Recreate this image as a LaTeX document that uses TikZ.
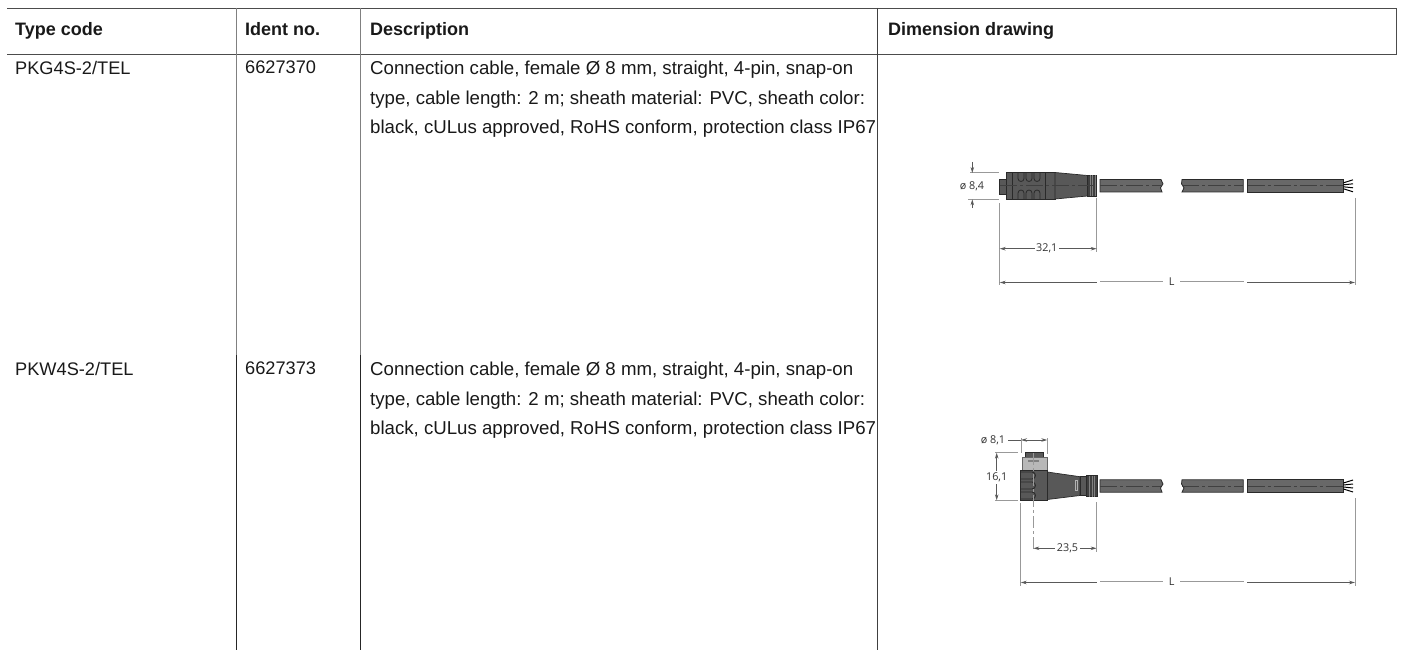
\documentclass[tikz,border=0pt]{standalone}
\usepackage{fontspec}
\setmainfont{Liberation Sans}
\newfontfamily\dimfont{Open Sans}
\usetikzlibrary{arrows.meta}
\definecolor{sheathgray}{HTML}{686868}
\definecolor{bodygray}{HTML}{585858}
\definecolor{edgegray}{HTML}{2A2A2A}
\tikzset{
	celltext/.style={anchor=north west,inner sep=0pt,align=left,font=\fontsize{18.2}{29.3}\selectfont,text=black!90},
	desctext/.style={celltext,font=\fontsize{18.65}{29.3}\selectfont},
	headtext/.style={anchor=base west,inner sep=0pt,font=\fontsize{18}{20}\selectfont\bfseries,text=black!90},
	dimtext/.style={inner sep=1.5pt,fill=white,font=\fontsize{10.8}{12}\dimfont,text=black!80},
	sheath/.style={draw=edgegray,line width=.8pt,fill=sheathgray},
	body/.style={draw=edgegray,line width=.7pt,fill=bodygray},
	centerline/.style={black!75,line width=.9pt,dash pattern=on 17pt off 3pt on 3pt off 3pt},
	extline/.style={black!40,line width=1pt},
	dimline/.style={black!65,line width=.8pt},
	lightdim/.style={black!40,line width=1pt}
}
\begin{document}
\begin{tikzpicture}[x=1pt,y=-1pt,>={Stealth[length=6pt,width=3.5pt]}]
	\useasboundingbox (0,0) rectangle (1401,650);
	
	\draw[black!70,line width=.9pt] (7,8) -- (1396.5,8) -- (1396.5,54) -- (7,54);
	\draw[black!50,line width=1pt] (236,8) -- (236,355);
	\draw[black!50,line width=1pt] (360,8) -- (360,355);
	\draw[black!85,line width=1pt] (236,355) -- (236,650);
	\draw[black!85,line width=1pt] (360,355) -- (360,650);
	\draw[black!75,line width=1pt] (877.5,8) -- (877.5,650);
	
	\node[headtext] (headtype) at (15,36) {Type code};
	\node[headtext] (headident) at (245,36) {Ident no.};
	\node[headtext] (headdesc) at (370,36) {Description};
	\node[headtext] (headdim) at (888,36) {Dimension drawing};
	
	\node[celltext] (typea) at (15,61) {PKG4S-2/TEL};
	\node[celltext] (identa) at (245,61) {6627370};
	\node[desctext] (desca) at (370,61) {Connection cable, female Ø 8 mm, straight, 4-pin, snap-on\\type, cable length: 2 m; sheath material: PVC, sheath color:\\black, cULus approved, RoHS conform, protection class IP67};
	\node[celltext] (typeb) at (15,362) {PKW4S-2/TEL};
	\node[celltext] (identb) at (245,362) {6627373};
	\node[desctext] (descb) at (370,362) {Connection cable, female Ø 8 mm, straight, 4-pin, snap-on\\type, cable length: 2 m; sheath material: PVC, sheath color:\\black, cULus approved, RoHS conform, protection class IP67};
	
	\foreach \y in {185.8,486}
	{
		\fill[sheath] (1100,\y-6.2) -- (1161,\y-6.2) -- (1163,\y-2) -- (1160.5,\y+2) -- (1162,\y+6.2) -- (1100,\y+6.2) -- cycle;
		\fill[sheath] (1182,\y-6.2) -- (1243.3,\y-6.2) -- (1243.3,\y+6.2) -- (1182,\y+6.2) -- (1184,\y+2) -- (1181.5,\y-2) -- cycle;
		\fill[sheath] (1247.3,\y-6.2) rectangle (1343.5,\y+6.2);
		\foreach \w in {-6,-2,2,6}
		\draw[black,line width=1pt] (1343.5,\y+\w/2) -- (1353,\y+\w);
		\foreach \a/\b in {1100/1161,1182/1243,1247.5/1343}
		\draw[centerline] (\a,\y) -- (\b,\y);
	}
	
	\draw[body] (999.5,179) rectangle (1006,194);
	\draw[body] (1006,172.5) rectangle (1055,199);
	\draw[body] (1055,172.5) -- (1087.5,175.5) -- (1087.5,196) -- (1055,199) -- cycle;
	\draw[body,fill=edgegray!90] (1087.5,175.5) rectangle (1096.7,196);
	\foreach \x in {1090,1092.5,1095}
	\draw[black!50,line width=.6pt] (\x,175.5) -- (\x,196);
	\draw[edgegray,line width=.7pt] (1012,172.5) -- (1012,199);
	\draw[edgegray,line width=.7pt] (1045,172.5) -- (1045,199);
	\foreach \x in {1018,1026,1034}
	{
		\draw[edgegray,line width=.8pt] (\x,172.5) -- (\x,178.5) arc[start angle=180,end angle=0,radius=3] -- (\x+6,172.5);
		\draw[edgegray,line width=.8pt] (\x,199) -- (\x,193) arc[start angle=180,end angle=360,radius=3] -- (\x+6,199);
	}
	\draw[centerline] (1000,185.8) -- (1096,185.8);
	
	\draw[extline] (970,173) -- (999,173);
	\draw[extline] (968,199.3) -- (999,199.3);
	\draw[dimline,->] (972.3,162) -- (972.3,173);
	\draw[dimline,->] (972.3,208) -- (972.3,199.3);
	\node[dimtext] (diama) at (972,186) {ø 8,4};
	\draw[extline] (999.7,203) -- (999.7,285);
	\draw[extline] (1096.7,198) -- (1096.7,252);
	\draw[extline] (1355,198) -- (1355,285);
	\draw[dimline,<->] (999.7,248.7) -- (1096.7,248.7) node[dimtext,pos=.485] (lena) {32,1};
	\draw[dimline,<-] (999.7,282.5) -- (1096.7,282.5);
	\draw[lightdim] (1100,281.3) -- (1162.7,281.3);
	\draw[lightdim] (1180,281.3) -- (1243.7,281.3);
	\draw[dimline,->] (1247,282.5) -- (1355,282.5);
	\node[dimtext,fill=none] (totala) at (1171.7,281.3) {L};
	
	\draw[draw=edgegray,fill=black!65,line width=.6pt] (1025,452.7) rectangle (1043.3,457.3);
	\draw[draw=black!60,fill=black!28,line width=.8pt] (1022.3,457.3) rectangle (1047.3,470);
	\fill[black!50] (1028.3,460) rectangle (1039,462);
	\draw[body] (1047.3,472) -- (1080,476.7) -- (1080,495.5) -- (1047.3,499.5) -- cycle;
	\draw[black!30,line width=.6pt,fill=bodygray] (1075,480.7) rectangle (1077.7,490.7);
	\draw[body] (1020.3,470) rectangle (1047.3,500.7);
	\foreach \y in {471,481,491}
	\draw[edgegray,line width=.9pt] (1020.3,\y+1) -- (1032,\y+1) arc[start angle=-90,end angle=90,radius=3.5] -- (1020.3,\y+8);
	\draw[body] (1080,476.7) rectangle (1086.7,495.5);
	\draw[body,fill=edgegray!90] (1086.7,475.7) rectangle (1097.3,496.7);
	\foreach \x in {1089.5,1092,1094.5}
	\draw[black!50,line width=.6pt] (\x,475.7) -- (\x,496.7);
	
	\draw[extline,dash pattern=on 12pt off 3pt on 3pt off 3pt] (1033.3,453) -- (1033.3,551.7);
	\draw[dimline] (1008,440) -- (1021,440);
	\draw[dimline,<->] (1021,440) -- (1047.3,440);
	\draw[extline] (1021,438) -- (1021,453);
	\draw[extline] (1047.3,438) -- (1047.3,454);
	\node[dimtext] (diamb) at (993,440) {ø 8,1};
	\draw[extline] (995,452.7) -- (1018,452.7);
	\draw[extline] (995,500.3) -- (1018,500.3);
	\draw[dimline,<->] (996.7,452.7) -- (996.7,500.3) node[dimtext,pos=.52] (heightb) {16,1};
	\draw[dimline,<->] (1033.3,548.3) -- (1096.7,548.3) node[dimtext,pos=.54] (lenb) {23,5};
	\draw[extline] (1020.7,503) -- (1020.7,586);
	\draw[extline] (1096.7,502) -- (1096.7,552);
	\draw[extline] (1355,498) -- (1355,586);
	\draw[dimline,<-] (1020.7,582.5) -- (1096.7,582.5);
	\draw[lightdim] (1100,581) -- (1162.7,581);
	\draw[lightdim] (1180,581) -- (1243.7,581);
	\draw[dimline,->] (1247,582.5) -- (1355,582.5);
	\node[dimtext,fill=none] (totalb) at (1171.7,581.5) {L};
\end{tikzpicture}
\end{document}
